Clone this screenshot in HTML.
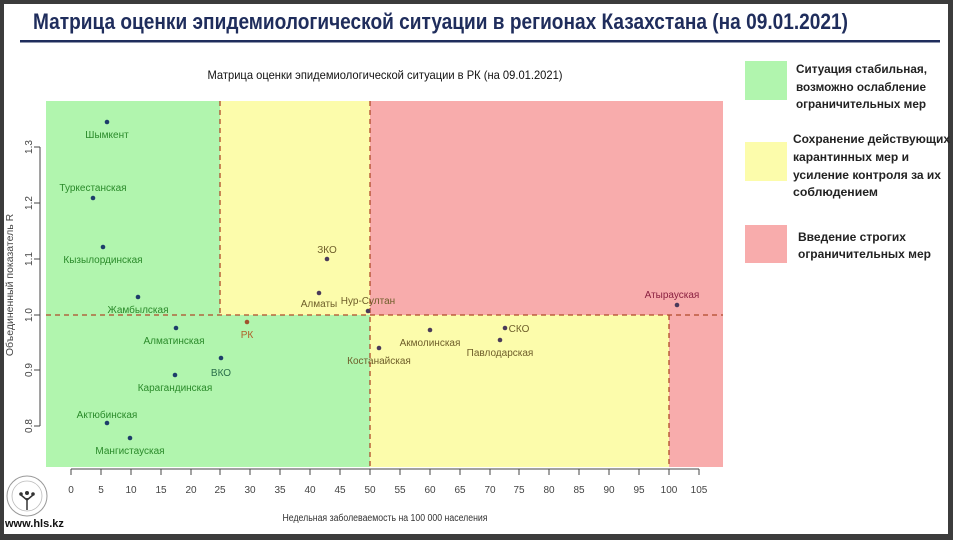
<!DOCTYPE html>
<html><head><meta charset="utf-8"><style>
body{margin:0;background:#fff}
svg{display:block}
text{font-family:"Liberation Sans",sans-serif}
</style></head><body>
<svg width="953" height="540" viewBox="0 0 953 540" xmlns="http://www.w3.org/2000/svg">
<rect x="0" y="0" width="953" height="540" fill="#3c3c3c"/>
<rect x="4" y="4" width="944" height="530" fill="#fff"/>
<text x="33" y="29" font-size="22" font-weight="bold" fill="#1f2d5c" textLength="815" lengthAdjust="spacingAndGlyphs">Матрица оценки эпидемиологической ситуации в регионах Казахстана (на 09.01.2021)</text>
<rect x="20" y="40" width="920" height="2.5" fill="#1f2d5c"/>
<text x="385" y="79" font-size="12" text-anchor="middle" fill="#111" textLength="355" lengthAdjust="spacingAndGlyphs">Матрица оценки эпидемиологической ситуации в РК (на 09.01.2021)</text>
<rect x="46" y="101" width="174" height="214" fill="#b1f5ae"/>
<rect x="220" y="101" width="150" height="214" fill="#fcfcab"/>
<rect x="370" y="101" width="353" height="214" fill="#f8acac"/>
<rect x="46" y="315" width="324" height="152" fill="#b1f5ae"/>
<rect x="370" y="315" width="299" height="152" fill="#fcfcab"/>
<rect x="669" y="315" width="54" height="152" fill="#f8acac"/>
<g stroke="#b04a2a" stroke-width="1.3" stroke-dasharray="5,4" fill="none">
<line x1="46" y1="315" x2="723" y2="315"/>
<line x1="220" y1="101" x2="220" y2="315"/>
<line x1="370" y1="101" x2="370" y2="467"/>
<line x1="669" y1="315" x2="669" y2="467"/>
</g>
<g stroke="#444" stroke-width="1">
<line x1="40" y1="147" x2="40" y2="426"/>
<line x1="34" y1="147" x2="40" y2="147"/><line x1="34" y1="203" x2="40" y2="203"/>
<line x1="34" y1="259" x2="40" y2="259"/><line x1="34" y1="315" x2="40" y2="315"/>
<line x1="34" y1="370" x2="40" y2="370"/><line x1="34" y1="426" x2="40" y2="426"/>
</g>
<g font-size="10" fill="#444" text-anchor="middle">
<text transform="translate(32,147) rotate(-90)">1.3</text>
<text transform="translate(32,203) rotate(-90)">1.2</text>
<text transform="translate(32,259) rotate(-90)">1.1</text>
<text transform="translate(32,315) rotate(-90)">1.0</text>
<text transform="translate(32,370) rotate(-90)">0.9</text>
<text transform="translate(32,426) rotate(-90)">0.8</text>
<text transform="translate(13,285) rotate(-90)" font-size="10.5">Объединенный показатель R</text>
</g>
<g stroke="#444" stroke-width="1">
<line x1="71" y1="469" x2="699" y2="469"/>
</g>
<g font-size="10" fill="#444" text-anchor="middle">
<text x="71" y="493">0</text><text x="101" y="493">5</text><text x="131" y="493">10</text><text x="161" y="493">15</text><text x="191" y="493">20</text><text x="220" y="493">25</text><text x="250" y="493">30</text><text x="280" y="493">35</text><text x="310" y="493">40</text><text x="340" y="493">45</text><text x="370" y="493">50</text><text x="400" y="493">55</text><text x="430" y="493">60</text><text x="460" y="493">65</text><text x="490" y="493">70</text><text x="519" y="493">75</text><text x="549" y="493">80</text><text x="579" y="493">85</text><text x="609" y="493">90</text><text x="639" y="493">95</text><text x="669" y="493">100</text><text x="699" y="493">105</text>
</g>
<g stroke="#444" stroke-width="1">
<path d="M71 469v6M101 469v6M131 469v6M161 469v6M191 469v6M220 469v6M250 469v6M280 469v6M310 469v6M340 469v6M370 469v6M400 469v6M430 469v6M460 469v6M490 469v6M519 469v6M549 469v6M579 469v6M609 469v6M639 469v6M669 469v6M699 469v6"/>
</g>
<text x="385" y="521" font-size="10" fill="#333" text-anchor="middle" textLength="205" lengthAdjust="spacingAndGlyphs">Недельная заболеваемость на 100 000 населения</text>
<g fill="#1d3d6a">
<circle cx="107" cy="122" r="2.3"/><circle cx="93" cy="198" r="2.3"/><circle cx="103" cy="247" r="2.3"/><circle cx="138" cy="297" r="2.3"/><circle cx="176" cy="328" r="2.3"/><circle cx="221" cy="358" r="2.3"/><circle cx="175" cy="375" r="2.3"/><circle cx="107" cy="423" r="2.3"/><circle cx="130" cy="438" r="2.3"/>
</g>
<g fill="#4a3a5a">
<circle cx="327" cy="259" r="2.3"/><circle cx="319" cy="293" r="2.3"/><circle cx="368" cy="311" r="2.3"/><circle cx="379" cy="348" r="2.3"/><circle cx="430" cy="330" r="2.3"/><circle cx="505" cy="328" r="2.3"/><circle cx="500" cy="340" r="2.3"/><circle cx="677" cy="305" r="2.3"/>
</g>
<circle cx="247" cy="322" r="2.3" fill="#a0522d"/>
<g font-size="10" text-anchor="middle" fill="#2a8a2a">
<text x="107" y="138">Шымкент</text><text x="93" y="191">Туркестанская</text><text x="103" y="263">Кызылординская</text><text x="138" y="313">Жамбылская</text><text x="174" y="344">Алматинская</text><text x="175" y="391">Карагандинская</text><text x="107" y="418">Актюбинская</text><text x="130" y="454">Мангистауская</text>
</g>
<g font-size="10" text-anchor="middle" fill="#6e5e2a">
<text x="221" y="376" fill="#2a6e4a">ВКО</text><text x="327" y="253">ЗКО</text><text x="319" y="307">Алматы</text><text x="368" y="304">Нур-Султан</text><text x="379" y="364">Костанайская</text><text x="430" y="346">Акмолинская</text><text x="519" y="332">СКО</text><text x="500" y="356">Павлодарская</text>
</g>
<text x="247" y="338" font-size="10" text-anchor="middle" fill="#b0602a">РК</text>
<text x="672" y="298" font-size="10" text-anchor="middle" fill="#8a2040">Атырауская</text>
<rect x="745" y="61" width="42" height="39" fill="#b1f5ae"/>
<rect x="745" y="142" width="42" height="39" fill="#fcfcab"/>
<rect x="745" y="225" width="42" height="38" fill="#f8acac"/>
<g font-size="12" font-weight="bold" fill="#222">
<text x="796" y="73" textLength="131" lengthAdjust="spacingAndGlyphs">Ситуация стабильная,</text>
<text x="796" y="91" textLength="130" lengthAdjust="spacingAndGlyphs">возможно ослабление</text>
<text x="796" y="108" textLength="130" lengthAdjust="spacingAndGlyphs">ограничительных мер</text>
<text x="793" y="143" textLength="157" lengthAdjust="spacingAndGlyphs">Сохранение действующих</text>
<text x="793" y="161" textLength="116" lengthAdjust="spacingAndGlyphs">карантинных мер и</text>
<text x="793" y="179" textLength="148" lengthAdjust="spacingAndGlyphs">усиление контроля за их</text>
<text x="793" y="196" textLength="85" lengthAdjust="spacingAndGlyphs">соблюдением</text>
<text x="798" y="241" textLength="108" lengthAdjust="spacingAndGlyphs">Введение строгих</text>
<text x="798" y="258" textLength="133" lengthAdjust="spacingAndGlyphs">ограничительных мер</text>
</g>
<circle cx="27" cy="496" r="20" fill="none" stroke="#999" stroke-width="1"/>
<circle cx="27" cy="496" r="15" fill="none" stroke="#bbb" stroke-width="0.8"/>
<path d="M27 510v-12M27 500l-6-5M27 500l6-5" stroke="#333" stroke-width="1.5" fill="none"/>
<circle cx="27" cy="493" r="2" fill="#333"/><circle cx="21" cy="494" r="1.8" fill="#333"/><circle cx="33" cy="494" r="1.8" fill="#333"/>
<text x="5" y="527" font-size="11" font-weight="bold" fill="#111">www.hls.kz</text>
</svg>
</body></html>
